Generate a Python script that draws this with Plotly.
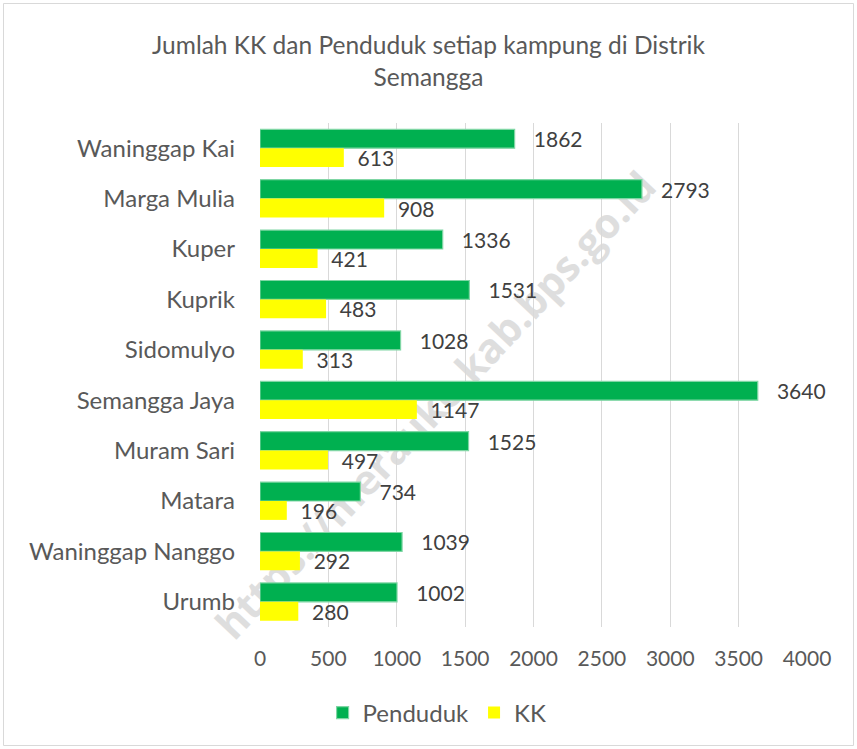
import plotly.graph_objects as go

kampung = ["Waninggap Kai", "Marga Mulia", "Kuper", "Kuprik", "Sidomulyo",
           "Semangga Jaya", "Muram Sari", "Matara", "Waninggap Nanggo", "Urumb"]
penduduk = [1862, 2793, 1336, 1531, 1028, 3640, 1525, 734, 1039, 1002]
kk = [613, 908, 421, 483, 313, 1147, 497, 196, 292, 280]
x_ticks = [0, 500, 1000, 1500, 2000, 2500, 3000, 3500, 4000]

W, H = 857, 749
L, R, T, B = 260, 50, 123, 122
FONT = "Lato"

fig = go.Figure()
fig.add_trace(go.Bar(
    y=kampung, x=penduduk, orientation="h", name="Penduduk",
    marker=dict(color="#00B050", line=dict(color="#7fd6a4", width=1.2)),
    text=penduduk, texttemplate="   %{x}", textposition="outside",
    textfont=dict(family=FONT, size=21, color="#404040"),
    constraintext="none", cliponaxis=False,
))
fig.add_trace(go.Bar(
    y=kampung, x=kk, orientation="h", name="KK",
    marker=dict(color="#FFFF00", line=dict(width=0)),
    text=kk, texttemplate="  %{x}", textposition="outside",
    textfont=dict(family=FONT, size=21, color="#404040"),
    constraintext="none", cliponaxis=False,
))

pw, ph = W - L - R, H - T - B
def px(x): return (x - L) / pw
def py(y): return (H - B - y) / ph

fig.update_layout(
    width=W, height=H,
    margin=dict(l=L, r=R, t=T, b=B, autoexpand=False),
    paper_bgcolor="white", plot_bgcolor="white",
    barmode="group", bargap=0.25, bargroupgap=0,
    font=dict(family=FONT, color="#595959"),
    title=dict(
        text="Jumlah KK dan Penduduk setiap kampung di Distrik<br>Semangga",
        x=0.5, xref="container", xanchor="center",
        y=(H - 54) / H, yref="container", yanchor="middle",
        font=dict(family=FONT, size=24.5, color="#595959"),
    ),
    xaxis=dict(
        range=[0, 4000], tickvals=x_ticks, showgrid=True,
        gridcolor="#d9d9d9", gridwidth=1, zeroline=False, showline=False,
        tickfont=dict(family=FONT, size=21, color="#595959"),
        ticklabelstandoff=17, ticks="",
    ),
    yaxis=dict(
        autorange="reversed", showgrid=False, zeroline=False,
        showline=False, ticks="",
        tickfont=dict(family=FONT, size=24, color="#595959"),
        ticklabelstandoff=24,
    ),
    legend=dict(
        orientation="h", x=0.51, xref="container", xanchor="center",
        y=(H - 713) / H, yref="container", yanchor="middle",
        font=dict(family=FONT, size=24, color="#595959"),
        itemwidth=30, traceorder="normal",
    ),
    showlegend=True,
    shapes=[
        dict(type="rect", xref="paper", yref="paper",
             x0=px(3.5), x1=px(853.5), y0=py(745.5), y1=py(3.5),
             line=dict(color="#d9d9d9", width=1), layer="below"),
        dict(type="line", xref="paper", yref="paper",
             x0=px(242), y0=py(660), x1=px(677), y1=py(195),
             line=dict(color="rgba(0,0,0,0)", width=0), layer="below",
             label=dict(text="<b>https://merauke.kab.bps.go.id</b>",
                        textposition="middle",
                        font=dict(family="Open Sans", size=41, color="#dedede"))),
    ],
)

fig.write_html("out.html", config={"displayModeBar": False},
               post_script="document.body.style.margin='0';document.body.style.overflow='hidden';")
